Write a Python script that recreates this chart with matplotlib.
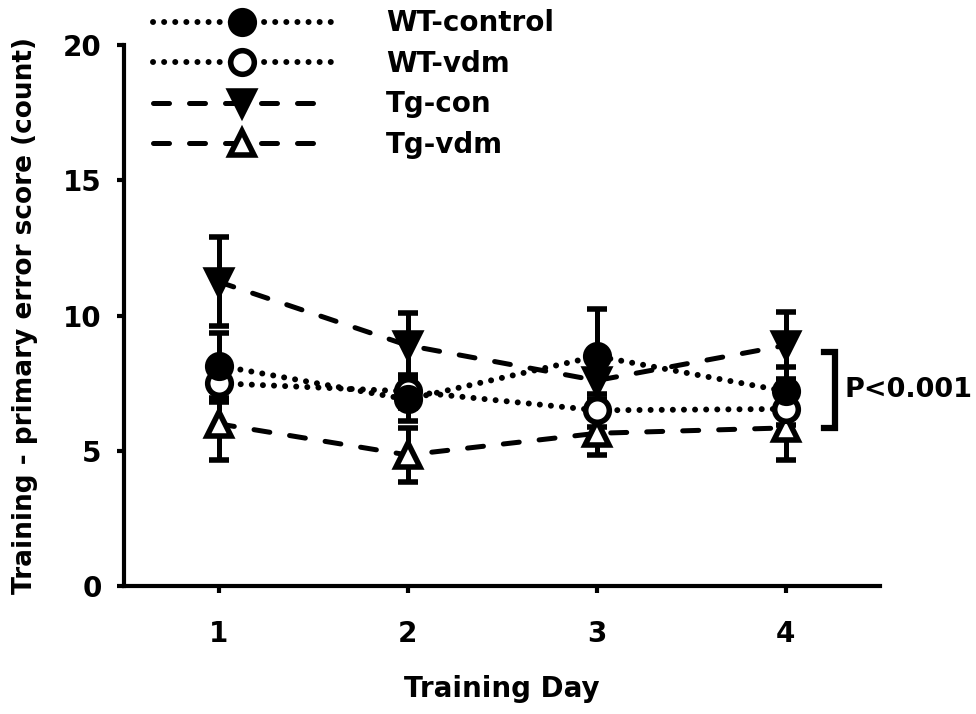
import matplotlib.pyplot as plt
from matplotlib.lines import Line2D
import numpy as np

plt.rcParams['font.family'] = ['DejaVu Sans']
plt.rcParams['font.weight'] = 'bold'

# data
days = np.array([1, 2, 3, 4])
wt_control = [8.15, 6.9, 8.5, 7.2]
wt_control_err = [1.2, 0.8, 1.75, 0.9]
wt_vdm = [7.5, 7.2, 6.5, 6.55]
wt_vdm_err = [0.7, 0.6, 0.6, 0.6]
tg_con = [11.25, 8.9, 7.6, 8.9]
tg_con_err = [1.65, 1.2, 0.7, 1.25]
tg_vdm = [6.0, 4.85, 5.65, 5.85]
tg_vdm_err = [1.35, 1.0, 0.8, 1.2]

labels = ['WT-control', 'WT-vdm', 'Tg-con', 'Tg-vdm']
p_text = 'P<0.001'
bracket_top, bracket_bottom = 8.65, 5.85

fig = plt.figure(figsize=(9.76, 7.14), dpi=100)
ax = fig.add_axes([0.127, 0.179, 0.775, 0.758])

dotted = (0, (0.01, 1.85))
dashed = (0, (3.2, 4))
ms = 17
mew = 4
common = dict(markersize=ms, markeredgewidth=mew, markeredgecolor='black',
              ecolor='black', elinewidth=3.6, capsize=7.5, capthick=3.8,
              dash_capstyle='round')

series = [
    (tg_vdm, tg_vdm_err, 'w', '^', dashed, 3.6),
    (tg_con, tg_con_err, 'k', 'v', dashed, 3.6),
    (wt_vdm, wt_vdm_err, 'w', 'o', dotted, 4.3),
    (wt_control, wt_control_err, 'k', 'o', dotted, 4.3),
]
for vals, err, fc, mk, ls, lw in series:
    ax.errorbar(days, vals, yerr=err, color='black', markerfacecolor=fc, marker=mk,
                linestyle=ls, linewidth=lw, **common)

ax.set_xlim(0.5, 4.5)
ax.set_ylim(0, 20)
ax.set_xticks(days)
ax.set_yticks([0, 5, 10, 15, 20])
ax.spines['top'].set_visible(False)
ax.spines['right'].set_visible(False)
ax.spines['left'].set_linewidth(3)
ax.spines['bottom'].set_linewidth(3)
ax.tick_params(direction='out', length=5, width=3, labelsize=20)
ax.tick_params(axis='x', pad=19)
ax.tick_params(axis='y', pad=11)

ax.set_xlabel('Training Day', fontsize=20, fontweight='bold', labelpad=20)
ax.set_ylabel('Training - primary error score (count)', fontsize=19, fontweight='bold')
ax.yaxis.set_label_coords(-0.114, 0.5)

# significance bracket
bx = 4.26
ax.plot([bx - 0.06, bx, bx, bx - 0.06], [bracket_top, bracket_top, bracket_bottom, bracket_bottom],
        color='black', linewidth=4.5, clip_on=False, solid_joinstyle='miter')
ax.text(bx + 0.05, (bracket_top + bracket_bottom) / 2, p_text, fontsize=19.5, fontweight='bold',
        va='center', ha='left')

# legend
leg_handles = [
    Line2D([], [], color='k', linestyle=dotted, linewidth=4.3, dash_capstyle='round',
           marker='o', markersize=ms, markerfacecolor='k', markeredgewidth=mew),
    Line2D([], [], color='k', linestyle=dotted, linewidth=4.3, dash_capstyle='round',
           marker='o', markersize=ms, markerfacecolor='w', markeredgewidth=mew),
    Line2D([], [], color='k', linestyle=dashed, linewidth=3.6, dash_capstyle='round',
           marker='v', markersize=ms, markerfacecolor='k', markeredgewidth=mew),
    Line2D([], [], color='k', linestyle=dashed, linewidth=3.6, dash_capstyle='round',
           marker='^', markersize=ms, markerfacecolor='w', markeredgewidth=mew),
]
leg = fig.legend(leg_handles, labels, loc='upper left',
                 bbox_to_anchor=(0.131, 1.022), frameon=False, fontsize=20,
                 handlelength=6.4, handletextpad=2.0, labelspacing=0.45)

fig.savefig('out.png', dpi=100)
